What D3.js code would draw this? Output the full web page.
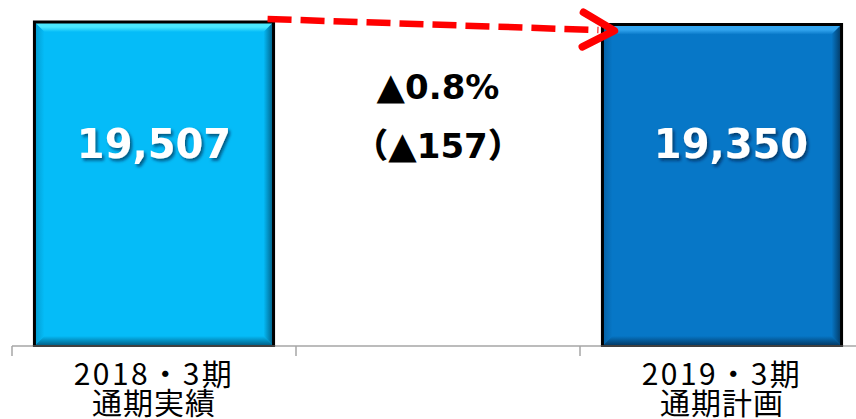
<!DOCTYPE html>
<html>
<head>
<meta charset="utf-8">
<script src="https://cdn.jsdelivr.net/npm/d3@7"></script>
<style>
  html, body { margin: 0; padding: 0; background: #fff; }
  svg { display: block; }
</style>
</head>
<body>
<svg id="chart" width="856" height="419"></svg>
<script>
// Periods on the axis (middle slot is the gap that holds the change annotation)
const periods = ["FY2018", "gap", "FY2019"];
const periodLine1 = ["2018・3期", "", "2019・3期"];
const periodLine2 = ["通期実績", "", "通期計画"];
const salesValues = [19507, null, 19350];
const barBase = ["#05BCF8", null, "#0777C7"];
const barLight = ["#4AE8FF", null, "#34A6F0"];
const barDark = ["#005A80", null, "#02365F"];

const svg = d3.select("#chart");
const defs = svg.append("defs");

const x = d3.scaleBand().domain(periods).range([12, 864]).paddingInner(0).paddingOuter(0);
const y = d3.scaleLinear().domain([0, 20832]).range([346, 0]);
const barW = x.bandwidth() * 0.842;

// soft shadow behind the value labels
const shadow = defs.append("filter").attr("id", "txtShadow")
  .attr("x", "-10%").attr("y", "-20%").attr("width", "130%").attr("height", "150%");
shadow.append("feDropShadow").attr("dx", 2).attr("dy", 2.5).attr("stdDeviation", 1.6)
  .attr("flood-color", "#001830").attr("flood-opacity", 0.6);

function grad(id, x1, y1, x2, y2, stops) {
  const g = defs.append("linearGradient").attr("id", id)
    .attr("x1", x1).attr("y1", y1).attr("x2", x2).attr("y2", y2);
  stops.forEach(s => g.append("stop").attr("offset", s[0]).attr("stop-color", s[1]));
}

// axis line and tick marks
const axis = svg.append("g");
axis.append("line").attr("x1", 12).attr("x2", 864).attr("y1", y(0)).attr("y2", y(0))
  .attr("stroke", "#a6a6a6").attr("stroke-width", 1.5);
const tickXs = periods.map(p => x(p)).concat([x(periods[periods.length - 1]) + x.bandwidth()]);
axis.selectAll("line.tick").data(tickXs).join("line").attr("class", "tick")
  .attr("x1", d => d).attr("x2", d => d).attr("y1", y(0)).attr("y2", y(0) + 10)
  .attr("stroke", "#a6a6a6").attr("stroke-width", 1.5);

// bevelled bars
const bars = periods.map((p, i) => ({ p, i, v: salesValues[i] })).filter(d => d.v != null);
const b = 10;
bars.forEach(d => {
  const x0 = x(d.p) + (x.bandwidth() - barW) / 2, x1 = x0 + barW;
  const y0 = y(d.v), y1 = y(0);
  const g = svg.append("g");
  grad("top" + d.i, 0, 0, 0, 1, [[0, barLight[d.i]], [0.5, barLight[d.i]], [1, barBase[d.i]]]);
  grad("right" + d.i, 0, 0, 1, 0, [[0, barBase[d.i]], [1, barDark[d.i]]]);
  grad("bottom" + d.i, 0, 0, 0, 1, [[0, barBase[d.i]], [1, barDark[d.i]]]);
  grad("left" + d.i, 1, 0, 0, 0, [[0, barBase[d.i]], [1, d3.interpolateRgb(barBase[d.i], barDark[d.i])(0.35)]]);
  g.append("rect").attr("x", x0).attr("y", y0).attr("width", barW).attr("height", y1 - y0)
    .attr("fill", barBase[d.i]);
  const poly = (pts, fill) => g.append("polygon").attr("points", pts.map(q => q.join(",")).join(" ")).attr("fill", fill);
  poly([[x0, y0], [x1, y0], [x1 - b, y0 + b], [x0 + b, y0 + b]], `url(#top${d.i})`);
  poly([[x0, y0], [x0 + b, y0 + b], [x0 + b, y1 - b], [x0, y1]], `url(#left${d.i})`);
  poly([[x1, y0], [x1, y1], [x1 - b, y1 - b], [x1 - b, y0 + b]], `url(#right${d.i})`);
  poly([[x0, y1], [x0 + b, y1 - b], [x1 - b, y1 - b], [x1, y1]], `url(#bottom${d.i})`);
  g.append("path").attr("d", `M${x0},${y1}V${y0}H${x1}V${y1}`)
    .attr("fill", "none").attr("stroke", "#000").attr("stroke-width", 3);
  g.append("line").attr("x1", x0 - 1.5).attr("x2", x1 + 1.5).attr("y1", y1).attr("y2", y1)
    .attr("stroke", "#404040").attr("stroke-width", 2);

  // value label
  const cx = x(d.p) + x.bandwidth() / 2 + (d.i === 2 ? 9 : 0);
  g.append("text").attr("x", cx).attr("y", 158)
    .attr("text-anchor", "middle")
    .attr("font-family", "DejaVu Sans, Verdana, sans-serif").attr("font-weight", "bold")
    .attr("font-size", 40).attr("fill", "#fff").attr("filter", "url(#txtShadow)")
    .text(d3.format(",")(d.v));
});

// change annotation in the gap
const diff = salesValues[2] - salesValues[0];
const pct = diff / salesValues[0] * 100;
const neg = v => (v < 0 ? "▲" : "");
const midX = x(periods[1]) + x.bandwidth() / 2;
const annFont = "DejaVu Sans, Verdana, sans-serif";
const pctLine = svg.append("text").attr("x", midX).attr("y", 99).attr("text-anchor", "middle")
  .attr("font-family", annFont).attr("font-weight", "bold")
  .attr("font-size", 34).attr("fill", "#000");
pctLine.append("tspan").attr("font-size", 37).text(neg(pct));
pctLine.append("tspan").text(Math.abs(pct).toFixed(1) + "%");
const absLine = svg.append("text").attr("x", midX).attr("y", 158).attr("text-anchor", "middle")
  .attr("font-family", annFont).attr("font-weight", "bold")
  .attr("font-size", 34).attr("fill", "#000");
absLine.append("tspan").attr("font-family", "Noto Sans CJK JP, sans-serif").attr("font-weight", 900).text("（");
absLine.append("tspan").attr("font-size", 37).text(neg(diff));
absLine.append("tspan").text(Math.abs(diff));
absLine.append("tspan").attr("font-family", "Noto Sans CJK JP, sans-serif").attr("font-weight", 900).text("）");

// dashed arrow from the previous bar to the plan bar
const bx0 = x(periods[0]) + (x.bandwidth() + barW) / 2;
const bx2 = x(periods[2]) + (x.bandwidth() - barW) / 2;
const sx = bx0 - 6, sy = y(salesValues[0]) - 3;
const ex = bx2 + 12, ey = y(salesValues[2]) + 6;
const ang = Math.atan2(ey - sy, ex - sx);
const lineEnd = [ex - 16 * Math.cos(ang), ey - 16 * Math.sin(ang)];
svg.append("line").attr("x1", sx).attr("y1", sy).attr("x2", lineEnd[0]).attr("y2", lineEnd[1])
  .attr("stroke", "#ff0000").attr("stroke-width", 6.5).attr("stroke-dasharray", "24 9");
const armLen = 36, spread = 0.5;
const a1 = [ex - armLen * Math.cos(ang - spread), ey - armLen * Math.sin(ang - spread)];
const a2 = [ex - armLen * Math.cos(ang + spread), ey - armLen * Math.sin(ang + spread)];
svg.append("path").attr("d", `M${a1}L${ex},${ey}L${a2}`)
  .attr("fill", "none").attr("stroke", "#ff0000").attr("stroke-width", 7.5)
  .attr("stroke-linecap", "round").attr("stroke-linejoin", "round");

// category labels, two lines under each bar
const labels = svg.append("g").attr("font-family", "Noto Sans CJK JP, sans-serif")
  .attr("font-size", 30).attr("fill", "#000").attr("text-anchor", "middle");
periods.forEach((p, i) => {
  if (!periodLine1[i]) return;
  const cx = x(p) + x.bandwidth() / 2;
  labels.append("text").attr("x", cx).attr("y", 385).attr("letter-spacing", 2.5).text(periodLine1[i]);
  labels.append("text").attr("x", cx).attr("y", 414).attr("letter-spacing", 1).text(periodLine2[i]);
});
</script>
</body>
</html>
